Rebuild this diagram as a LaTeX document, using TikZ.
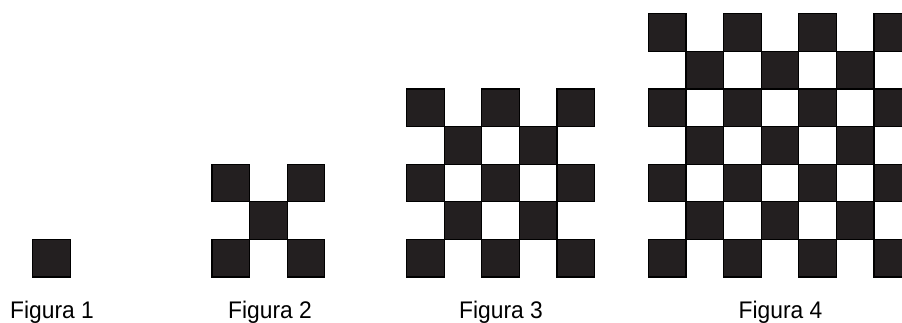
\documentclass[tikz,border=0pt]{standalone}
\usepackage{fontspec}
\setmainfont{Liberation Sans}
\definecolor{sq}{HTML}{231F20}
\begin{document}
\begin{tikzpicture}[x=1pt,y=-1pt,
  cell/.style={fill=sq,draw=black,line width=1.2pt},
  lbl/.style={anchor=base,inner sep=0pt,xscale=0.95,font=\fontsize{24}{28}\selectfont}]
\useasboundingbox (0,0) rectangle (902,323);
\fill[white] (0,0) rectangle (902,323);
\def\p{37.6}
% figure origins: left x, size n (bottom at y=277)
\foreach \lx/\n in {32.5/1, 212/3, 406.5/5, 648.3/7}{
  \foreach \i in {1,...,\n}{
    \foreach \j in {1,...,\n}{
      \pgfmathparse{int(mod(\i+\j,2))}
      \ifnum\pgfmathresult=0
        \path[cell] ({\lx+(\i-1)*\p},{277-(\j-1)*\p}) rectangle ++(\p,-\p);
      \fi
    }
  }
}
\node[lbl] (f1) at (52,318.5) {Figura 1};
\node[lbl] (f2) at (270,318.5) {Figura 2};
\node[lbl] (f3) at (501,318.5) {Figura 3};
\node[lbl] (f4) at (780.5,318.5) {Figura 4};
\end{tikzpicture}
\end{document}
